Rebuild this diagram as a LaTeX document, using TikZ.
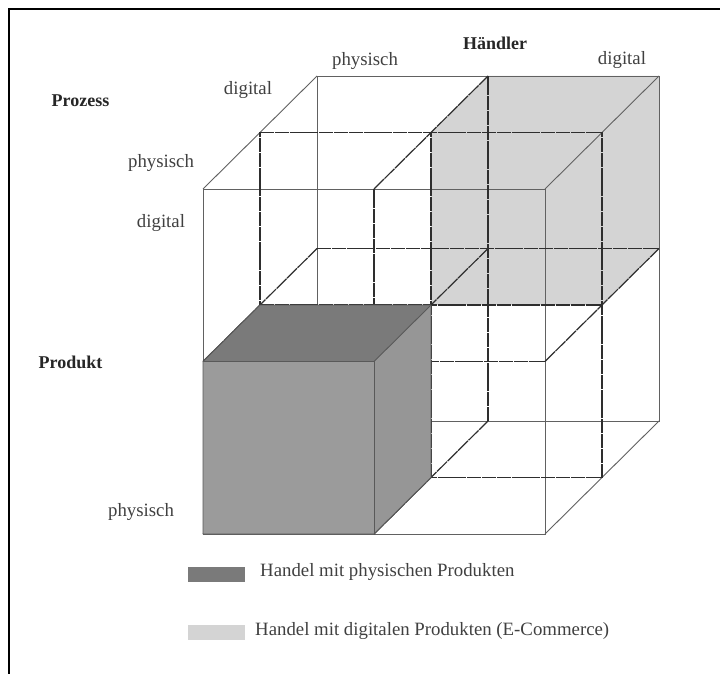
\documentclass[tikz,border=0pt]{standalone}
\usepackage{fontspec}
\setmainfont{Liberation Serif}
\definecolor{darkg}{RGB}{122,122,122}
\definecolor{midg}{RGB}{155,155,155}
\definecolor{sideg}{RGB}{150,150,150}
\definecolor{lightg}{RGB}{212,212,212}
\begin{document}
\begin{tikzpicture}[x=1pt,y=-1pt,
  outer/.style={draw=black!62, line width=0.9pt},
  inner/.style={draw=black!82, line width=1.2pt, dash pattern=on 14pt off 0.8pt},
  cubeedge/.style={draw=black!65, line width=0.9pt, line join=round},
  lbl/.style={inner sep=0pt, text=black!75, font=\fontsize{18.8}{21}\selectfont},
  head/.style={inner sep=0pt, text=black!85, font=\fontsize{18}{20}\selectfont\bfseries},
  legbox/.style={inner sep=0pt, minimum width=57pt, minimum height=15pt},
]
\useasboundingbox (0,0) rectangle (720,674);
\fill[white] (0,0) rectangle (720,674);
\foreach \i in {0,1,2}{\foreach \j in {0,1,2}{\foreach \k in {0,1,2}{
  \coordinate (p\i\j\k) at ({203+171*\i+57*\k},{534-172.5*\j-56.5*\k});
}}}
% frame
\coordinate (f1) at (9,674);
\coordinate (f2) at (9,9);
\coordinate (f3) at (720,9);
\draw[line width=2pt] (f1) -- (f2) -- (f3);
% light grey cube (digital)
\fill[lightg] (p111) -- (p121) -- (p122) -- (p222) -- (p212) -- (p211) -- cycle;
% outer edges of the big cube
\draw[outer] (p000) -- (p200) -- (p220) -- (p020) -- cycle;
\draw[outer] (p002) -- (p202) -- (p222) -- (p022) -- cycle;
\draw[outer] (p000) -- (p002);
\draw[outer] (p200) -- (p202);
\draw[outer] (p220) -- (p222);
\draw[outer] (p020) -- (p022);
% subdivision lines
\draw[inner] (p010) -- (p210);
\draw[inner] (p011) -- (p211);
\draw[inner] (p012) -- (p212);
\draw[inner] (p001) -- (p201);
\draw[inner] (p021) -- (p221);
\draw[inner] (p100) -- (p120);
\draw[inner] (p101) -- (p121);
\draw[inner] (p102) -- (p122);
\draw[inner] (p001) -- (p021);
\draw[inner] (p201) -- (p221);
\draw[inner] (p100) -- (p102);
\draw[inner] (p110) -- (p112);
\draw[inner] (p120) -- (p122);
\draw[inner] (p010) -- (p012);
\draw[inner] (p210) -- (p212);
% dark cube (physical)
\fill[midg] (p000) -- (p100) -- (p110) -- (p010) -- cycle;
\fill[darkg] (p010) -- (p110) -- (p111) -- (p011) -- cycle;
\fill[sideg] (p100) -- (p101) -- (p111) -- (p110) -- cycle;
\draw[cubeedge] (p000) -- (p100) -- (p101) -- (p111) -- (p011) -- (p010) -- cycle;
\draw[cubeedge] (p010) -- (p110) -- (p100);
\draw[cubeedge] (p110) -- (p111);
% labels
\node[head] (prozess) at (80.5,101) {Prozess};
\node[lbl] (pdig) at (248,90) {digital};
\node[lbl] (hphys) at (365,61) {physisch};
\node[head] (haendler) at (495,43) {Händler};
\node[lbl] (hdig) at (622,60) {digital};
\node[lbl] (pphys) at (161,163) {physisch};
\node[lbl] (prdig) at (161,223) {digital};
\node[head] (produkt) at (70.5,362) {Produkt};
\node[lbl] (prphys) at (141,512) {physisch};
% legend
\node[legbox, fill=darkg] (lg1) at (216.5,574.5) {};
\node[lbl, anchor=west] (lt1) at (260,572) {Handel mit physischen Produkten};
\node[legbox, fill=lightg] (lg2) at (216.5,632) {};
\node[lbl, anchor=west] (lt2) at (255,631) {Handel mit digitalen Produkten (E-Commerce)};
\end{tikzpicture}
\end{document}
